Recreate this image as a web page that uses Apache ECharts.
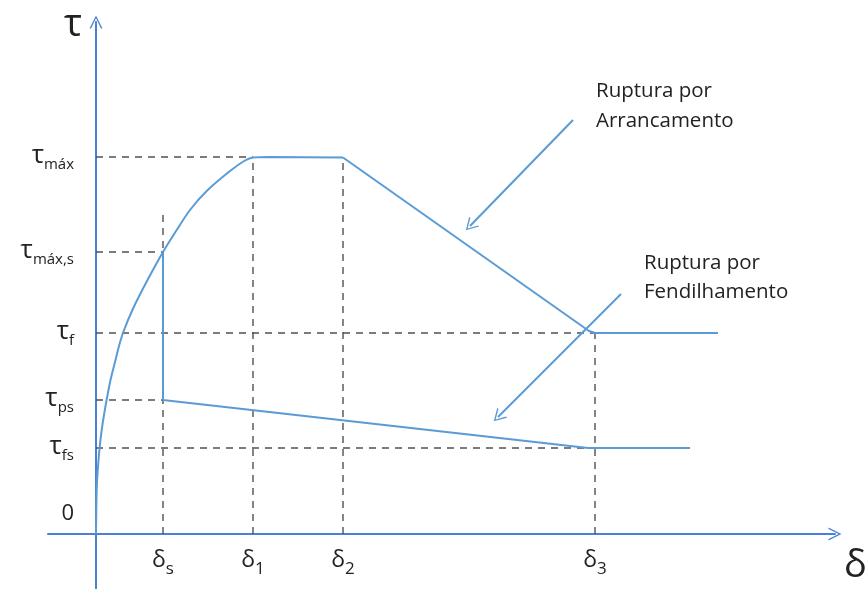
<!DOCTYPE html>
<html>
<head>
<meta charset="utf-8">
<script src="https://cdn.jsdelivr.net/npm/echarts@6/dist/echarts.min.js"></script>
<style>html,body{margin:0;padding:0;background:#fff;}#c{width:867px;height:589px;}</style>
</head>
<body>
<div id="c"></div>
<script>
// ---- data (arbitrary slip / stress units) ----
const deltaNames = ['s', '1', '2', '3'];
const deltaValues = [6.7, 15.7, 24.7, 49.9];
const tauNames = ['máx', 'máx,s', 'f', 'ps', 'fs'];
const tauValues = [37.7, 28.2, 20.1, 13.4, 8.6];

// ascending branch up to the plateau
const ascendX = [0, 0.07, 0.175, 0.36, 0.57, 0.8, 1.06, 1.45, 1.9, 2.3, 2.73, 3.73, 5.1, 6.7,
  8.07, 9.4, 11.07, 13.4, 14.9, 15.7, 17.4, 24.7];
const ascendY = [0, 4.4, 6.4, 8.6, 10.4, 11.9, 13.4, 15.4, 17.2, 18.8, 20.2, 22.6, 25.3, 28.2,
  30.4, 32.4, 34.3, 36.3, 37.35, 37.65, 37.7, 37.65];
// pull-out failure branch (Arrancamento)
const pulloutX = [24.7, 49.3, 49.9, 62.2];
const pulloutY = [37.65, 20.3, 20.1, 20.1];
// splitting failure branch (Fendilhamento)
const splitX = [6.7, 6.7, 49.2, 59.4];
const splitY = [28.2, 13.4, 8.6, 8.6];

// guide lines: horizontal ends (x) per tau, vertical tops (y) per delta
const guideHEnd = [15.7, 6.7, 49.9, 6.7, 49.9];
const guideVTop = [31.9, 37.7, 37.7, 20.1];

// annotation arrows
const arrowFrom = [[47.7, 41.4], [52.5, 24.0]];
const arrowTo = [[37.4, 30.8], [40.2, 11.7]];
const annoText = ['Ruptura por\nArrancamento', 'Ruptura por\nFendilhamento'];

// ---- chart ----
const FONT = 'Open Sans';
const TXT = '#222';
const AXIS = '#4a80d6';
const CURVE = '#5b9bd5';
const DASH = '#505050';
const chevron = 'path://M5,0 L10,10 L8.8,10 L5,2.2 L1.2,10 L0,10 Z';

const zip = (xs, ys) => xs.map((x, i) => [x, ys[i]]);
const series = [];

tauValues.forEach((t, i) => {
  series.push({ type: 'line', data: [[0, t], [guideHEnd[i], t]], symbol: 'none', silent: true,
    lineStyle: { color: DASH, width: 1.4, type: [7, 6] }, z: 1 });
});
deltaValues.forEach((d, i) => {
  series.push({ type: 'line', data: [[d, 0], [d, guideVTop[i]]], symbol: 'none', silent: true,
    lineStyle: { color: DASH, width: 1.4, type: [7, 6] }, z: 1 });
});
series.push({ type: 'line', data: zip(ascendX, ascendY), symbol: 'none', smooth: 0.3, silent: true,
  lineStyle: { color: CURVE, width: 2 }, z: 3 });
series.push({ type: 'line', data: zip(pulloutX, pulloutY), symbol: 'none', silent: true,
  lineStyle: { color: CURVE, width: 2 }, z: 3 });
series.push({ type: 'line', data: zip(splitX, splitY), symbol: 'none', silent: true,
  lineStyle: { color: CURVE, width: 2 }, z: 3 });
series.push({ type: 'line', data: [], symbol: 'none', silent: true,
  markLine: {
    silent: true, symbol: ['none', chevron], symbolSize: [14, 12],
    label: { show: false },
    lineStyle: { color: CURVE, width: 2, type: 'solid' },
    data: arrowFrom.map((f, i) => [{ coord: f }, { coord: arrowTo[i] }])
  }, z: 4 });

const option = {
  animation: false,
  backgroundColor: '#fff',
  grid: { left: 48, right: 32, top: 22, bottom: 0, containLabel: false, outerBoundsMode: 'none' },
  xAxis: {
    type: 'value', min: -4.8, max: 73.9,
    axisLine: { onZero: true, symbol: ['none', chevron], symbolSize: [14, 13], lineStyle: { color: AXIS, width: 2 } },
    axisTick: { show: false }, splitLine: { show: false },
    axisLabel: {
      customValues: deltaValues, margin: -37,
      formatter: v => '{d|δ}{s|' + deltaNames[deltaValues.indexOf(v)] + '}',
      rich: {
        d: { fontFamily: FONT, fontSize: 23, lineHeight: 26, verticalAlign: 'bottom', padding: [0, 0, 6, 0], color: TXT },
        s: { fontFamily: FONT, fontSize: 17, lineHeight: 20, verticalAlign: 'bottom', color: TXT }
      }
    }
  },
  yAxis: {
    type: 'value', min: -5.5, max: 51.2,
    axisLine: { onZero: true, symbol: ['none', chevron], symbolSize: [14, 13], lineStyle: { color: AXIS, width: 2 } },
    axisTick: { show: false }, splitLine: { show: false },
    axisLabel: {
      customValues: tauValues.concat([0]), margin: -26,
      padding: [5, 0, 0, 0],
      formatter: v => v === 0 ? '{z|0}' : '{t|τ}{s|' + tauNames[tauValues.indexOf(v)] + '}',
      rich: {
        t: { fontFamily: FONT, fontSize: 26, lineHeight: 26, verticalAlign: 'bottom', padding: [0, 0, 4, 0], color: TXT },
        s: { fontFamily: FONT, fontSize: 15, lineHeight: 18, verticalAlign: 'bottom', color: TXT },
        z: { fontFamily: FONT, fontSize: 22, lineHeight: 24, padding: [0, 0, 46, 0], color: TXT }
      }
    }
  },
  graphic: [
    { type: 'text', x: 64, y: 6, style: { text: 'τ', fontFamily: FONT, fontSize: 38, fill: TXT } },
    { type: 'text', x: 844, y: 547, style: { text: 'δ', fontFamily: FONT, fontSize: 38, fill: TXT } },
    { type: 'text', x: 596, y: 76, style: { text: annoText[0], fontFamily: FONT, fontSize: 20.5, lineHeight: 30, fill: TXT } },
    { type: 'text', x: 644, y: 249, style: { text: annoText[1], fontFamily: FONT, fontSize: 20.5, lineHeight: 29, fill: TXT } }
  ],
  series: series
};
echarts.init(document.getElementById('c'), null, { renderer: 'canvas' }).setOption(option);
</script>
</body>
</html>
